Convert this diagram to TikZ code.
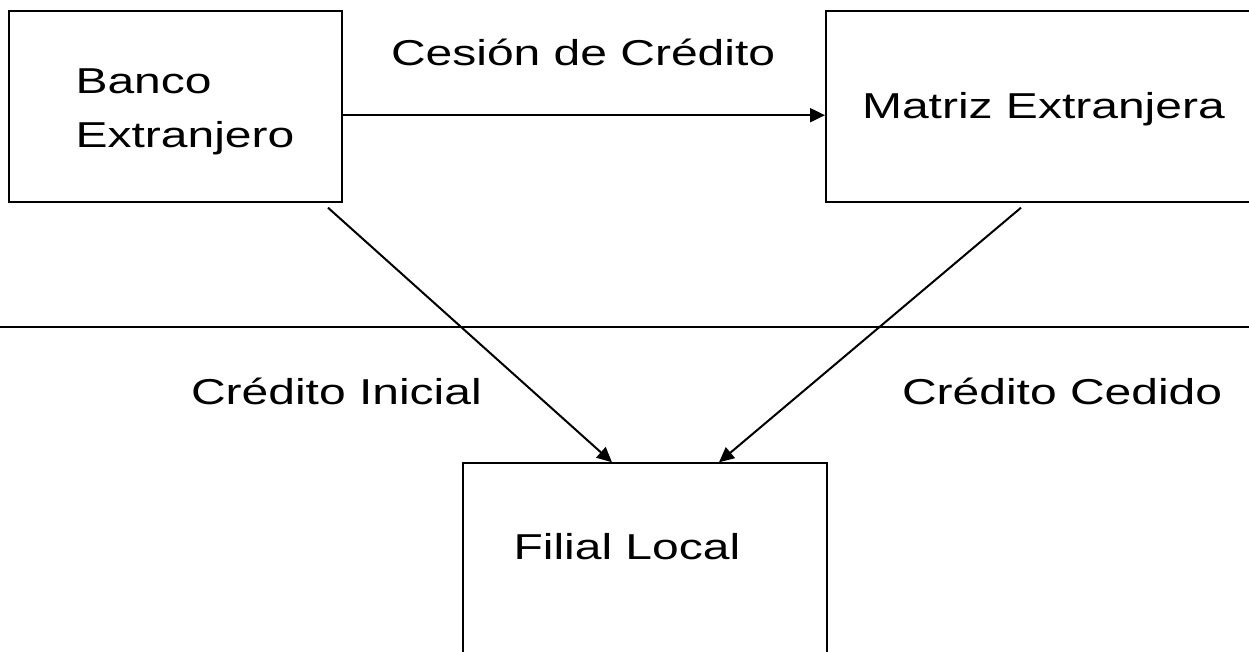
\documentclass[tikz,border=0pt]{standalone}
\usepackage{fontspec}
\setmainfont{Liberation Sans}
\usetikzlibrary{arrows.meta,calc}
\tikzset{
  caja/.style={draw, line width=1pt, inner sep=0pt},
  rotulo/.style={anchor=base west, inner sep=0pt, xscale=1.3333, font=\fontsize{18}{27}\selectfont},
  flecha/.style={line width=1pt, -{Triangle[length=7.5pt,width=7pt]}}
}
\begin{document}
\begin{tikzpicture}[x=0.5pt, y=-0.5pt]
\useasboundingbox (0,0) rectangle (1249,652);
\path   node[caja, minimum width=166.5pt, minimum height=95.5pt] (banco) at (175.5,106.2) {}
        node[caja, minimum width=222pt, minimum height=95.5pt] (matriz) at (1048,106.2) {}
        node[caja, minimum width=182pt, minimum height=108.4pt] (filial) at (645,571.7) {}
        node[rotulo] (bancoA) at (75,94) {Banco}
        node[rotulo] (bancoB) at (75,147.7) {Extranjero}
        node[rotulo] (matrizTxt) at (861.5,119) {Matriz Extranjera}
        node[rotulo] (filialTxt) at (513,559.3) {Filial Local}
        node[rotulo] (cesion) at (390.5,66) {Cesión de Crédito}
        node[rotulo] (inicial) at (190.5,405) {Crédito Inicial}
        node[rotulo] (cedido) at (901.5,405) {Crédito Cedido};
\coordinate (sepL) at (0,327);
\coordinate (sepR) at (1249,327);
\draw[line width=1pt] (sepL) -- (sepR);
\draw[flecha] ($(banco.east)+(0,9)$) -- ($(matriz.west)+(0,9)$);
\draw[flecha] ($(banco.south east)+(-15,5)$) -- ($(filial.north west)+(150,0)$);
\draw[flecha] ($(matriz.south west)+(196,5)$) -- ($(filial.north west)+(257,0)$);
\end{tikzpicture}
\end{document}
